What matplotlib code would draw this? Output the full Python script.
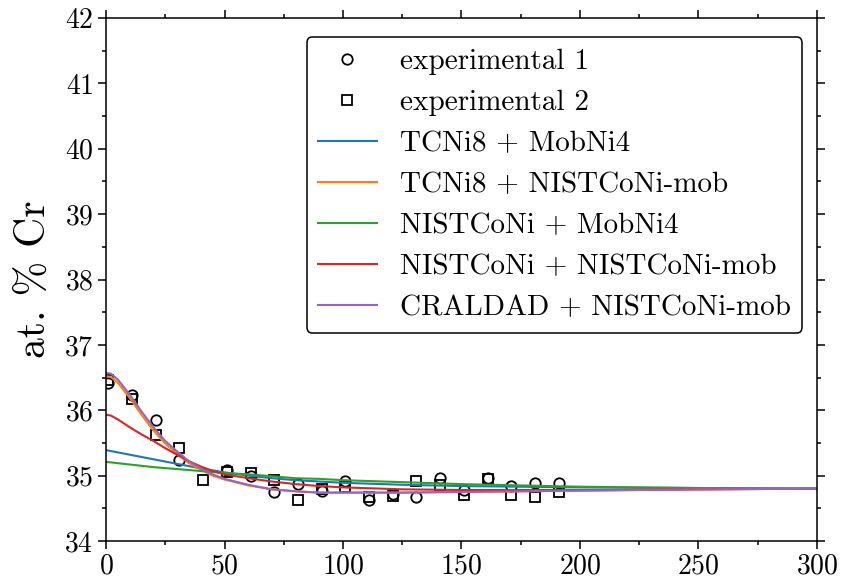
import matplotlib

matplotlib.use("Agg")
import matplotlib.pyplot as plt
from matplotlib.ticker import MultipleLocator

# experimental points
exp1_x = [1, 11, 21, 31, 51, 61, 71, 81, 91, 101, 111, 121, 131, 141, 151, 161, 171, 181, 191]
exp1_y = [36.42, 36.23, 35.85, 35.24, 35.09, 34.99, 34.75, 34.87, 34.77, 34.91, 34.63, 34.72,
          34.68, 34.97, 34.78, 34.97, 34.84, 34.88, 34.88]
exp2_x = [1, 11, 21, 31, 41, 51, 61, 71, 81, 91, 101, 111, 121, 131, 141, 151, 161, 171, 181, 191]
exp2_y = [36.47, 36.17, 35.62, 35.43, 34.94, 35.05, 35.04, 34.93, 34.63, 34.79, 34.82, 34.67,
          34.69, 34.91, 34.86, 34.70, 34.95, 34.70, 34.67, 34.75]

# simulated profiles
dist_fast = [0, 2, 5, 10, 15, 20, 25, 30, 35, 40, 45, 50, 60, 70, 80, 90, 100, 125, 150, 175, 200, 250, 300]
tcni8_nist = [36.52, 36.51, 36.42, 36.19, 35.93, 35.69, 35.49, 35.33, 35.19, 35.09, 35.00, 34.94,
              34.85, 34.79, 34.76, 34.74, 34.74, 34.74, 34.75, 34.76, 34.77, 34.79, 34.80]
nist_nist = [35.93, 35.92, 35.86, 35.74, 35.63, 35.53, 35.42, 35.32, 35.22, 35.14, 35.07, 35.02,
             34.96, 34.91, 34.87, 34.84, 34.82, 34.79, 34.78, 34.78, 34.78, 34.79, 34.80]
cral_nist = [36.57, 36.56, 36.47, 36.24, 35.98, 35.74, 35.53, 35.37, 35.22, 35.11, 35.02, 34.95,
             34.86, 34.79, 34.76, 34.74, 34.74, 34.74, 34.75, 34.76, 34.77, 34.79, 34.80]

dist_slow = [0, 10, 20, 30, 40, 50, 60, 70, 80, 90, 100, 125, 150, 175, 200, 250, 300]
tcni8_mob = [35.39, 35.32, 35.25, 35.18, 35.11, 35.05, 35.00, 34.96, 34.93, 34.91, 34.89,
             34.86, 34.84, 34.83, 34.82, 34.81, 34.80]
nist_mob = [35.21, 35.17, 35.13, 35.10, 35.07, 35.04, 35.02, 34.99, 34.96, 34.95, 34.93,
            34.90, 34.87, 34.85, 34.83, 34.81, 34.80]

plt.rcParams["font.family"] = "serif"
plt.rcParams["font.serif"] = ["cmr10"]
plt.rcParams["mathtext.fontset"] = "cm"
plt.rcParams["axes.formatter.use_mathtext"] = True

fig = plt.figure(figsize=(8.46, 5.87), dpi=100)
ax = fig.add_axes([0.1253, 0.0784, 0.8404, 0.8909])

mk = dict(linestyle="none", mfc="none", mec="black", ms=7.5, mew=1.3)
ax.plot(exp1_x, exp1_y, marker="o", label="experimental 1", **mk)
ax.plot(exp2_x, exp2_y, marker="s", label="experimental 2", **mk)

lw = 1.5
ax.plot(dist_slow, tcni8_mob, color="#1f77b4", lw=lw, label="TCNi8 + MobNi4")
ax.plot(dist_fast, tcni8_nist, color="#ff7f0e", lw=lw, label="TCNi8 + NISTCoNi-mob")
ax.plot(dist_slow, nist_mob, color="#2ca02c", lw=lw, label="NISTCoNi + MobNi4")
ax.plot(dist_fast, nist_nist, color="#d62728", lw=lw, label="NISTCoNi + NISTCoNi-mob")
ax.plot(dist_fast, cral_nist, color="#9467bd", lw=lw, label="CRALDAD + NISTCoNi-mob")

ax.set_xlim(0, 300)
ax.set_ylim(34, 42)
ax.xaxis.set_major_locator(MultipleLocator(50))
ax.xaxis.set_minor_locator(MultipleLocator(25))
ax.yaxis.set_major_locator(MultipleLocator(1))
ax.yaxis.set_minor_locator(MultipleLocator(0.5))
ax.tick_params(which="both", direction="out", top=True, right=True, width=1.1)
ax.tick_params(which="major", length=5.5, labelsize=20)
ax.tick_params(which="minor", length=3)
for sp in ax.spines.values():
    sp.set_linewidth(1.1)

ax.set_ylabel("at. % Cr", fontsize=30, labelpad=8)

leg = ax.legend(loc="upper right", bbox_to_anchor=(1.0, 0.9916), fontsize=21,
                frameon=True, framealpha=1, edgecolor="black", fancybox=True,
                borderaxespad=0.5, labelspacing=0.5)
leg.get_frame().set_linewidth(1.1)

fig.savefig("out.png", dpi=100)
